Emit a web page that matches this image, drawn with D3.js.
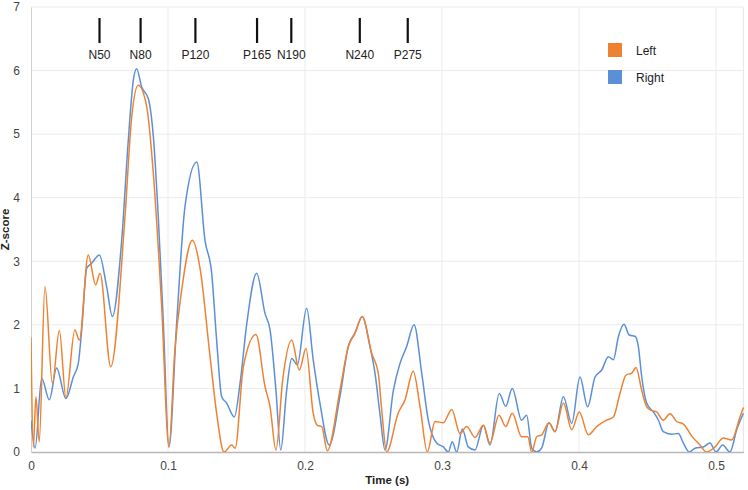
<!DOCTYPE html>
<html><head><meta charset="utf-8">
<script src="https://cdn.jsdelivr.net/npm/d3@7"></script>
<style>
html,body{margin:0;padding:0;background:#fff;}
svg text{font-family:"Liberation Sans",Arial,sans-serif;}
</style></head>
<body><svg id="c" width="748" height="490"></svg>
<script>
const seriesNames = ["Left", "Right"];
const seriesColors = ["#EE8232", "#5B8FD8"];
const xTicks = [0, 0.1, 0.2, 0.3, 0.4, 0.5];
const yTicks = [0, 1, 2, 3, 4, 5, 6, 7];
const markerTimes = [0.05, 0.08, 0.12, 0.165, 0.19, 0.24, 0.275];
const markerLabels = ["N50", "N80", "P120", "P165", "N190", "N240", "P275"];

const leftT = [0,0.0017,0.0036,0.006,0.0102,0.0156,0.0207,0.0255,0.032,0.0353,0.0418,0.0472,0.0504,0.0582,0.0686,0.0735,0.0783,0.0845,0.0893,0.0954,0.1007,0.105,0.11,0.1178,0.1234,0.1307,0.1355,0.1409,0.1465,0.149,0.155,0.1642,0.1708,0.1745,0.1788,0.1837,0.1903,0.1959,0.2007,0.206,0.209,0.2122,0.2163,0.2255,0.2316,0.2365,0.2418,0.2487,0.2535,0.256,0.2596,0.268,0.273,0.279,0.284,0.2893,0.2949,0.301,0.3071,0.3131,0.318,0.3241,0.3302,0.335,0.3416,0.3465,0.3513,0.3581,0.3626,0.3655,0.3691,0.3727,0.3781,0.3825,0.3886,0.3947,0.4002,0.4068,0.4129,0.4202,0.4251,0.4299,0.4343,0.4385,0.4416,0.4458,0.4494,0.4531,0.4567,0.4615,0.4664,0.4713,0.4762,0.4823,0.4883,0.4932,0.4993,0.5053,0.5114,0.5175,0.52];
const leftZ = [1.8,0.08,0.87,0.16,2.6,1.08,1.91,0.85,1.92,1.76,3.1,2.63,2.81,1.34,3.7,5.27,5.77,5.43,4.38,2.28,0.08,1.6,2.55,3.33,2.89,1.5,0.61,0.0,0.11,0.06,1.34,1.85,1.03,0.71,0.03,1.13,1.76,1.29,1.63,0.61,0.42,0.40,0.02,0.97,1.66,1.87,2.13,1.55,1.24,0.66,0.0,0.61,0.82,1.27,0.71,0.0,0.48,0.46,0.67,0.29,0.40,0.23,0.42,0.14,0.58,0.40,0.61,0.24,0.24,0.0,0.24,0.27,0.46,0.32,0.77,0.35,0.63,0.27,0.40,0.50,0.55,0.92,1.21,1.24,1.33,0.97,0.71,0.65,0.63,0.50,0.60,0.48,0.44,0.25,0.11,0.0,0.08,0.22,0.19,0.55,0.70];

const rightT = [0,0.003,0.0078,0.0134,0.0187,0.0255,0.0309,0.0345,0.037,0.0407,0.0443,0.0499,0.0552,0.0594,0.0662,0.071,0.0747,0.0771,0.0808,0.0856,0.0893,0.0929,0.0966,0.1007,0.1063,0.1124,0.121,0.127,0.1319,0.1355,0.1392,0.1428,0.1484,0.1526,0.1575,0.1647,0.1708,0.1745,0.1788,0.1823,0.1866,0.1903,0.1944,0.2012,0.206,0.2109,0.2177,0.2255,0.2316,0.2365,0.2418,0.2474,0.2511,0.2547,0.2584,0.2645,0.2693,0.2742,0.2796,0.2852,0.29,0.2961,0.301,0.3046,0.3075,0.3107,0.3148,0.3192,0.3241,0.3302,0.335,0.3418,0.3465,0.3513,0.3581,0.3618,0.3655,0.3691,0.3727,0.3781,0.3825,0.3886,0.3947,0.4007,0.4063,0.4117,0.4166,0.4214,0.4251,0.4287,0.4328,0.4367,0.4409,0.4433,0.4458,0.4494,0.4543,0.458,0.4615,0.4676,0.4725,0.4762,0.4805,0.4847,0.4908,0.4956,0.5,0.5049,0.5102,0.5151,0.52];
const rightZ = [0.5,0.06,1.16,0.82,1.32,0.84,1.18,1.39,1.92,2.89,2.97,3.1,2.6,2.13,3.33,4.9,5.85,6.03,5.74,5.56,4.96,3.7,2.03,0.08,2.02,3.86,4.56,3.33,2.81,1.76,0.87,0.77,0.55,1.08,2.02,2.81,2.18,1.92,0.97,0.03,0.97,1.47,1.37,2.26,1.45,0.77,0.11,0.87,1.66,1.87,2.13,1.66,1.24,0.6,0.03,0.97,1.39,1.66,2.0,1.24,0.5,0.14,0.08,0.0,0.16,0.0,0.36,0.08,0.03,0.42,0.11,0.92,0.72,1.0,0.5,0.58,0.06,0.0,0.06,0.46,0.32,0.87,0.45,1.18,0.71,1.18,1.29,1.5,1.45,1.81,2.01,1.84,1.82,1.66,1.18,0.77,0.63,0.5,0.32,0.28,0.29,0.14,0.0,0.06,0.08,0.14,0.0,0.11,0.0,0.35,0.61];

const svg = d3.select("#c");
const M = {l: 31, t: 7, r: 743.4, b: 452};
const x = d3.scaleLinear().domain([0, 0.52]).range([M.l, M.r]);
const y = d3.scaleLinear().domain([0, 7]).range([M.b, M.t]);

// gridlines
const grid = svg.append("g");
grid.selectAll(".hg").data(yTicks.slice(1)).enter().append("line")
  .attr("x1", M.l).attr("x2", M.r).attr("y1", d => y(d)).attr("y2", d => y(d))
  .attr("stroke", "#ebebeb").attr("stroke-width", 1);
grid.selectAll(".vg").data(xTicks.slice(1)).enter().append("line")
  .attr("y1", M.t).attr("y2", M.b).attr("x1", d => x(d)).attr("x2", d => x(d))
  .attr("stroke", "#ebebeb").attr("stroke-width", 1);
grid.append("line").attr("x1", M.r).attr("x2", M.r).attr("y1", M.t).attr("y2", M.b)
  .attr("stroke", "#e6e6e6");

// axes
const xAxis = svg.append("g").attr("transform", `translate(0,${M.b})`)
  .call(d3.axisBottom(x).tickValues(xTicks).tickSize(0).tickPadding(9).tickFormat(d3.format("")));
xAxis.select(".domain").attr("stroke", "#b8b8b8").attr("stroke-width", 1.5);
xAxis.selectAll("text").attr("font-size", 12).attr("fill", "#444");

const yAxis = svg.append("g").attr("transform", `translate(${M.l},0)`)
  .call(d3.axisLeft(y).tickValues(yTicks).tickSize(0).tickPadding(11).tickFormat(d3.format("d")));
yAxis.select(".domain").attr("stroke", "#d0d0d0").attr("stroke-width", 1);
yAxis.selectAll("text").attr("font-size", 12).attr("fill", "#444");

// axis titles
svg.append("text").attr("x", (M.l + M.r) / 2).attr("y", 484).attr("text-anchor", "middle")
  .attr("font-size", 11.5).attr("font-weight", "bold").attr("fill", "#222").text("Time (s)");
svg.append("text").attr("transform", `translate(9,${(M.t + M.b) / 2}) rotate(-90)`)
  .attr("text-anchor", "middle").attr("font-size", 11.5).attr("font-weight", "bold")
  .attr("fill", "#222").text("Z-score");

// series
const clip = svg.append("clipPath").attr("id", "pc").append("rect")
  .attr("x", M.l).attr("y", M.t - 2).attr("width", M.r - M.l + 2).attr("height", M.b - M.t + 2);
const line = d3.line().x(d => x(d[0])).y(d => y(d[1])).curve(d3.curveMonotoneX);
const series = [
  leftT.map((t, i) => [t, leftZ[i]]),
  rightT.map((t, i) => [t, rightZ[i]])
];
const order = [1, 0];
order.forEach(i => {
  svg.append("path").attr("clip-path", "url(#pc)").datum(series[i]).attr("d", line)
    .attr("fill", "none").attr("stroke", seriesColors[i]).attr("stroke-width", 1.5)
    .attr("stroke-linejoin", "round");
});

// component markers
const mk = svg.append("g");
markerTimes.forEach((t, i) => {
  mk.append("line").attr("x1", x(t)).attr("x2", x(t)).attr("y1", 18).attr("y2", 43)
    .attr("stroke", "#111").attr("stroke-width", 2.2);
  mk.append("text").attr("x", x(t)).attr("y", 59).attr("text-anchor", "middle")
    .attr("font-size", 12).attr("fill", "#222").text(markerLabels[i]);
});

// legend
const lg = svg.append("g");
seriesNames.forEach((n, i) => {
  lg.append("rect").attr("x", 608).attr("y", 43 + i * 27).attr("width", 14).attr("height", 14)
    .attr("fill", seriesColors[i]);
  lg.append("text").attr("x", 636).attr("y", 55 + i * 27).attr("font-size", 12)
    .attr("fill", "#222").text(n);
});
</script></body></html>
